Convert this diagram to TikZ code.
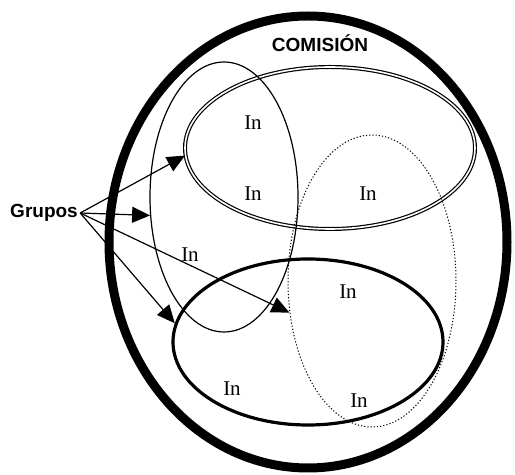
\documentclass[tikz,border=0pt]{standalone}
\usepackage{fontspec}
\setmainfont{Liberation Serif}
\setsansfont{Liberation Sans}
\usetikzlibrary{shapes.geometric,arrows.meta}
\begin{document}
\begin{tikzpicture}[x=0.5pt, y=-0.5pt,
    set/.style={ellipse, draw, inner sep=0pt},
    rotulo/.style={font=\sffamily\bfseries\fontsize{9.5}{11}\selectfont},
    elem/.style={font=\fontsize{10.5}{12}\selectfont, inner sep=0pt},
    grp/.style={-{Triangle[length=9pt,width=8pt]}, line width=0.6pt}]
  \useasboundingbox (0,0) rectangle (515,475);

  % la comision y sus grupos
  \node[set, line width=4.5pt, minimum width=199pt, minimum height=226pt] (comision) at (308,242) {};
  \node[set, line width=0.6pt, double, double distance=0.8pt, minimum width=145pt, minimum height=81pt] (doble) at (330,148) {};
  \node[set, line width=0.6pt, minimum width=74pt, minimum height=135pt] (fino) at (224,197) {};
  \node[set, line width=1.6pt, minimum width=135pt, minimum height=83pt] (grueso) at (308,342) {};
  \node[set, line width=0.5pt, dash pattern=on 0.6pt off 1pt, minimum width=84pt, minimum height=146pt] (punteado) at (372,281) {};

  \node[rotulo] (titulo) at (320,43) {COMISIÓN};
  \node[rotulo, inner sep=1pt] (grupos) at (44,213) {Grupos};

  % integrantes
  \foreach \x/\y [count=\i] in {253/123, 253/194, 368/194, 190/255, 348/292, 232/389, 359/401}
    \node[elem] (in\i) at (\x,\y) {In};

  \draw[grp] (grupos.east) -- (doble.183);
  \draw[grp] (grupos.east) -- (fino.194);
  \draw[grp] (grupos.east) -- (punteado.201);
  \draw[grp] (grupos.east) -- (grueso.172);
\end{tikzpicture}
\end{document}
